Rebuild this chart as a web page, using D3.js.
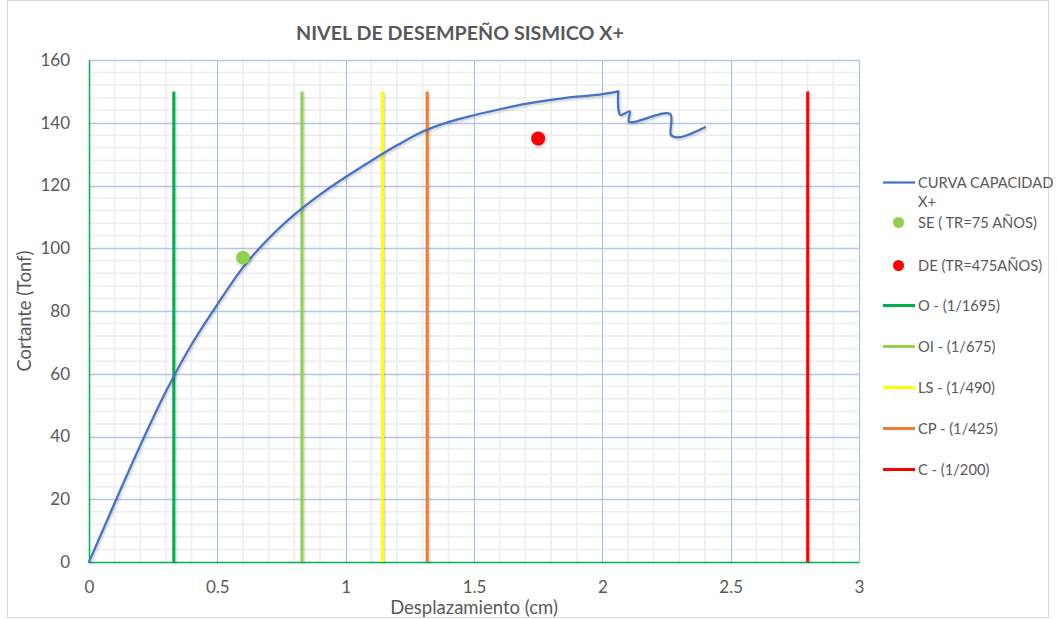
<!DOCTYPE html>
<html>
<head>
<meta charset="utf-8">
<script src="https://cdn.jsdelivr.net/npm/d3@7"></script>
<style>
  html, body { margin: 0; padding: 0; background: #fff; }
  svg { display: block; font-family: Lato, "Open Sans", sans-serif; }
</style>
</head>
<body>
<svg id="chart" width="1057" height="619"></svg>
<script>
// Capacity curve (displacement in cm, base shear in Tonf)
const curveX = [0, 0.1, 0.2, 0.3, 0.4, 0.5, 0.6, 0.7, 0.8, 0.9, 1.0, 1.1, 1.2, 1.3, 1.4, 1.5, 1.6, 1.7, 1.8, 1.9, 2.0, 2.062,
                2.070, 2.107, 2.104, 2.264, 2.268, 2.30, 2.40];
const curveY = [0, 18.8, 37.2, 54.4, 69.4, 82.1, 93.9, 103.1, 110.7, 117.1, 122.7, 127.9, 132.8, 137.2, 140.2, 142.4, 144.3, 146.0, 147.3, 148.3, 149.1, 150.0,
                142.5, 143.6, 140.3, 142.8, 136.0, 135.4, 138.6];

// Performance points
const pointNames = ["SE ( TR=75 AÑOS)", "DE (TR=475AÑOS)"];
const pointX = [0.6, 1.75];
const pointY = [97, 135];
const pointColors = ["#92d050", "#ff0000"];

// Drift limits (building height 560 cm)
const limitNames = ["O - (1/1695)", "OI - (1/675)", "LS - (1/490)", "CP - (1/425)", "C - (1/200)"];
const limitX = [560 / 1695, 560 / 675, 560 / 490, 560 / 425, 560 / 200];
const limitTop = [150, 150, 150, 150, 150];
const limitColors = ["#00b050", "#92d050", "#ffff00", "#ed7d31", "#ff0000"];

const xTicks = [0, 0.5, 1, 1.5, 2, 2.5, 3];
const yTicks = [0, 20, 40, 60, 80, 100, 120, 140, 160];

const svg = d3.select("#chart");
const margin = { left: 89, right: 859, top: 60, bottom: 562 };

const x = d3.scaleLinear().domain([0, 3]).range([margin.left, margin.right]);
const y = d3.scaleLinear().domain([0, 160]).range([margin.bottom, margin.top]);

// soft shadow for the series marks (user-space region so zero-width lines still render)
const defs = svg.append("defs");
const f = defs.append("filter").attr("id", "shadow").attr("filterUnits", "userSpaceOnUse")
  .attr("x", 0).attr("y", 0).attr("width", 1057).attr("height", 619);
f.append("feDropShadow").attr("dx", 1).attr("dy", 1.5).attr("stdDeviation", 1.2)
  .attr("flood-color", "#000").attr("flood-opacity", 0.22);

// outer chart border
svg.append("rect").attr("x", 7.5).attr("y", 0.5).attr("width", 1041).attr("height", 617)
  .attr("fill", "#fff").attr("stroke", "#d9d9d9");

// minor gridlines
const grid = svg.append("g");
grid.selectAll("line.mx").data(d3.range(0, 31).map(i => i / 10).filter((v, i) => i % 5 !== 0))
  .join("line").attr("x1", d => x(d)).attr("x2", d => x(d)).attr("y1", y(0)).attr("y2", y(160))
  .attr("stroke", "#ededed").attr("stroke-width", 1.5);
grid.selectAll("line.my").data(d3.range(0, 161, 4).filter(v => v % 20 !== 0))
  .join("line").attr("y1", d => y(d)).attr("y2", d => y(d)).attr("x1", x(0)).attr("x2", x(3))
  .attr("stroke", "#ededed").attr("stroke-width", 1.5);

// major gridlines
grid.selectAll("line.Mx").data(xTicks.filter(v => v > 0))
  .join("line").attr("x1", d => Math.round(x(d)) + 0.5).attr("x2", d => Math.round(x(d)) + 0.5).attr("y1", y(0)).attr("y2", y(160))
  .attr("stroke", "#a4bce6").attr("stroke-width", 1);
grid.selectAll("line.My").data(yTicks.filter(v => v > 0))
  .join("line").attr("y1", d => Math.round(y(d)) + 0.5).attr("y2", d => Math.round(y(d)) + 0.5).attr("x1", x(0)).attr("x2", x(3))
  .attr("stroke", "#b4c7e7").attr("stroke-width", 1.5);

// axes
const xAxis = svg.append("g").attr("transform", `translate(0,${y(0)})`)
  .call(d3.axisBottom(x).tickValues(xTicks).tickSize(0).tickPadding(19).tickFormat(d3.format("")));
const yAxis = svg.append("g").attr("transform", `translate(${x(0)},0)`)
  .call(d3.axisLeft(y).tickValues(yTicks).tickSize(0).tickPadding(19));
[xAxis, yAxis].forEach(a => {
  a.select(".domain").attr("stroke", "#00b050").attr("stroke-width", 1.5);
  a.selectAll("text").attr("fill", "#595959").attr("font-size", 17).attr("font-family", "Lato, sans-serif");
});

// drift limit lines
svg.append("g").selectAll("line").data(limitX)
  .join("line")
  .attr("x1", d => x(d)).attr("x2", d => x(d))
  .attr("y1", y(0)).attr("y2", (d, i) => y(limitTop[i]))
  .attr("stroke", (d, i) => limitColors[i]).attr("stroke-width", 3)
  .attr("filter", "url(#shadow)");

// capacity curve: smooth rising branch up to the peak, then the degrading branch
const pts = curveX.map((v, i) => [v, curveY[i]]);
const peak = d3.maxIndex(curveY);
const rising = d3.line().x(d => x(d[0])).y(d => y(d[1])).curve(d3.curveMonotoneX);
const falling = d3.line().x(d => x(d[0])).y(d => y(d[1])).curve(d3.curveCatmullRom.alpha(0.5));
const cg = svg.append("g").attr("filter", "url(#shadow)");
[[rising, pts.slice(0, peak + 1)], [falling, pts.slice(peak)]].forEach(([gen, seg]) => {
  cg.append("path").datum(seg).attr("d", gen)
    .attr("fill", "none").attr("stroke", "#4472c4").attr("stroke-width", 2.25)
    .attr("stroke-linejoin", "round").attr("stroke-linecap", "round");
});

// performance points
svg.append("g").selectAll("circle").data(pointX)
  .join("circle").attr("cx", d => x(d)).attr("cy", (d, i) => y(pointY[i])).attr("r", 7)
  .attr("fill", (d, i) => pointColors[i]).attr("filter", "url(#shadow)");

// title
svg.append("text").attr("x", 460).attr("y", 40).attr("text-anchor", "middle")
  .attr("font-size", 19.7).attr("font-weight", "bold").attr("fill", "#595959")
  .text("NIVEL DE DESEMPEÑO SISMICO X+");

// axis titles
svg.append("text").attr("x", 474).attr("y", 614).attr("text-anchor", "middle")
  .attr("font-size", 18.5).attr("fill", "#595959").text("Desplazamiento (cm)");
svg.append("text").attr("transform", `translate(31,311) rotate(-90)`).attr("text-anchor", "middle")
  .attr("font-size", 18.3).attr("fill", "#595959").text("Cortante (Tonf)");

// legend
const lg = svg.append("g").attr("font-size", 14.7).attr("fill", "#595959");
const lx0 = 883, lx1 = 915, tx = 918;
lg.append("line").attr("x1", lx0).attr("x2", lx1).attr("y1", 182.5).attr("y2", 182.5)
  .attr("stroke", "#4472c4").attr("stroke-width", 2.25);
lg.append("text").attr("x", tx).attr("y", 188).text("CURVA CAPACIDAD");
lg.append("text").attr("x", tx).attr("y", 207).text("X+");
const legY = [222.5, 265.5];
pointNames.forEach((n, i) => {
  lg.append("circle").attr("cx", 898.5).attr("cy", legY[i]).attr("r", 5.5).attr("fill", pointColors[i]);
  lg.append("text").attr("x", tx).attr("y", legY[i] + 5.5).text(n);
});
limitNames.forEach((n, i) => {
  const ly = 305.5 + i * 41;
  lg.append("line").attr("x1", lx0).attr("x2", lx1).attr("y1", ly).attr("y2", ly)
    .attr("stroke", limitColors[i]).attr("stroke-width", 3);
  lg.append("text").attr("x", tx).attr("y", ly + 5.5).text(n);
});
</script>
</body>
</html>
